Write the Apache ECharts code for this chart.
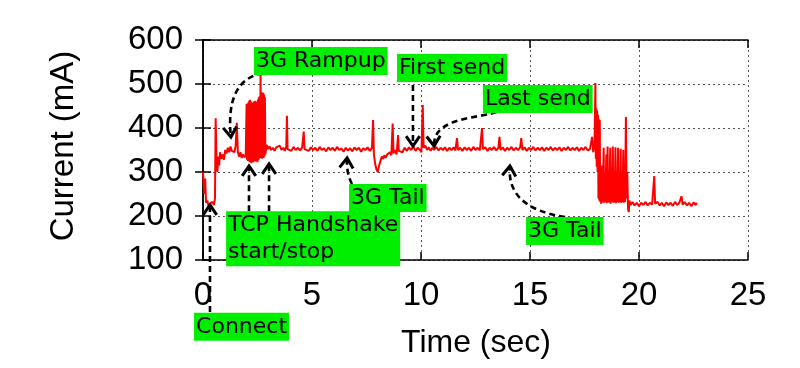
<!DOCTYPE html>
<html>
<head>
<meta charset="utf-8">
<script src="https://cdn.jsdelivr.net/npm/echarts@6/dist/echarts.min.js"></script>
<style>
html,body{margin:0;padding:0;background:#fff;}
#chart{width:800px;height:368px;}
</style>
</head>
<body>
<div id="chart"></div>
<script>
// ---- Data (time in seconds, current in mA) ----
const times = [
0.00,0.04,0.06,0.10,0.14,0.20,0.26,0.32,0.38,0.44,0.50,0.55,0.58,0.62,0.66,0.70,0.74,0.78,0.84,0.90,0.96,
1.02,1.08,1.14,1.20,1.26,1.32,1.38,1.44,1.50,1.55,1.60,1.66,1.72,1.78,1.84,1.90,1.96,
2.00,2.02,2.04,2.06,2.08,2.10,2.12,2.14,2.16,2.18,2.20,2.22,2.24,2.26,2.28,2.30,2.32,2.34,2.36,2.38,2.40,2.42,
2.44,2.46,2.48,2.50,2.52,2.54,2.56,2.58,2.60,2.62,2.64,2.66,2.68,2.70,2.72,2.74,2.76,2.78,2.80,2.82,2.84,2.86,
2.92,2.98,3.05,3.12,3.20,3.28,3.36,3.44,3.52,3.60,3.68,3.75,3.82,3.85,3.88,3.95,
4.05,4.15,4.25,4.35,4.45,4.55,4.62,4.66,4.75,4.85,4.95,
5.05,5.15,5.25,5.35,5.45,5.55,5.65,5.75,5.85,5.95,
6.05,6.15,6.25,6.35,6.45,6.55,6.65,6.75,6.85,6.95,
7.05,7.15,7.25,7.35,7.45,7.55,7.65,7.75,7.80,7.84,7.90,7.96,
8.02,8.08,8.14,8.20,8.26,8.32,8.38,8.45,8.52,8.58,8.64,8.70,8.74,8.80,8.88,8.95,8.98,
9.05,9.15,9.25,9.35,9.45,9.55,9.65,9.75,9.85,9.95,
10.02,10.08,10.12,10.20,10.28,10.36,10.44,10.52,10.60,10.70,10.80,10.90,
11.00,11.10,11.20,11.30,11.40,11.50,11.58,11.65,11.70,11.80,11.90,
12.00,12.10,12.20,12.30,12.40,12.50,12.60,12.70,12.80,12.84,12.95,
13.05,13.15,13.25,13.35,13.45,13.55,13.60,13.65,13.75,13.85,13.95,
14.05,14.15,14.25,14.35,14.45,14.55,14.60,14.65,14.75,14.85,14.95,
15.05,15.15,15.25,15.35,15.45,15.55,15.65,15.75,15.85,15.95,
16.05,16.15,16.25,16.35,16.45,16.55,16.65,16.75,16.85,16.95,
17.05,17.15,17.25,17.35,17.45,17.55,17.65,17.75,17.85,17.90,17.96,
18.00,18.02,18.04,18.06,18.08,18.10,18.12,18.14,18.16,18.18,18.20,18.22,18.24,18.26,18.28,18.30,18.32,18.34,
18.38,18.40,18.44,18.46,18.50,18.52,18.56,18.58,18.62,18.64,18.68,18.70,18.74,18.76,18.80,18.82,18.86,18.88,18.92,18.94,18.98,
19.00,19.04,19.06,19.10,19.12,19.16,19.18,19.22,19.24,19.28,19.30,19.34,19.36,19.40,19.43,19.46,19.50,19.53,19.56,19.62,19.70,19.80,19.90,
20.00,20.10,20.20,20.30,20.40,20.50,20.60,20.70,20.74,20.85,20.95,
21.05,21.15,21.25,21.35,21.45,21.55,21.65,21.75,21.85,21.95,
22.00,22.10,22.20,22.30,22.40,22.50,22.60,22.65
];
const currents = [
300,300,250,285,230,235,222,228,225,232,225,240,422,330,300,335,315,345,330,340,328,
350,342,355,345,358,348,352,345,360,412,345,335,345,332,340,333,338,
455,328,452,325,458,330,462,322,464,325,460,320,457,326,455,322,460,328,458,324,462,330,
456,324,459,322,465,327,470,330,472,332,525,335,482,330,478,335,480,332,476,336,470,340,
362,352,358,350,355,348,356,352,360,350,355,348,358,428,352,356,
348,357,350,355,349,356,392,352,355,348,356,
350,355,348,357,350,354,347,356,350,355,
348,357,350,353,346,355,349,354,347,356,
350,355,346,354,350,356,348,355,418,340,318,305,
300,315,325,335,330,338,332,340,336,345,338,410,342,350,340,384,348,
352,345,355,348,356,350,358,348,355,350,
345,452,355,360,350,356,348,355,350,357,349,355,
350,356,348,355,350,356,349,377,350,355,348,
356,350,355,348,357,350,355,349,400,352,356,
348,355,350,357,349,355,380,350,356,348,355,
350,357,349,355,350,356,377,350,356,348,355,
350,357,349,355,350,356,348,355,350,357,
349,355,350,356,348,355,350,357,349,355,
350,356,348,355,350,357,349,352,380,345,360,
502,330,445,312,440,300,430,240,420,235,418,232,312,228,315,230,312,232,
355,230,300,232,340,229,358,232,300,230,355,228,310,232,358,230,300,231,356,229,290,
232,355,230,300,231,353,230,280,232,350,230,270,232,425,240,300,215,209,235,225,232,224,230,
222,230,225,232,224,230,226,291,228,232,224,
230,222,231,225,230,223,232,225,230,245,
226,232,224,230,222,231,225,230
];
const xTicks = {min: 0, max: 25, interval: 5};
const yTicks = {min: 100, max: 600, interval: 100};

// ---- Annotations (anchored in data coordinates) ----
const noteTexts = ['3G Rampup', 'First send', 'Last send', '3G Tail', 'TCP Handshake\nstart/stop', 'Connect', '3G Tail'];
const noteAnchors = [[2.34, 584], [8.90, 568], [12.84, 498], [6.70, 273], [1.06, 211], [-0.41, -20], [14.82, 198]];
// each arrow: start, [control points...], tip
const arrowPaths = [
  [[0.32, -41], [0.32, 225]],
  [[2.11, 211], [2.11, 313.6]],
  [[3.03, 211], [3.03, 318.2]],
  [[6.83, 272.7], [6.56, 300], [6.61, 331.8]],
  [[2.75, 525], [1.01, 509], [1.28, 379.5]],
  [[9.63, 497.7], [9.63, 359.1]],
  [[13.85, 447.7], [13.49, 418.2], [10.50, 436.4], [10.60, 359.1]],
  [[16.61, 197.7], [13.90, 218.2], [14.08, 313.6]]
];

const seriesData = times.map((t, i) => [t, currents[i]]);

const chart = echarts.init(document.getElementById('chart'), null, {renderer: 'canvas'});
const tickFont = 'Liberation Sans';
const gridStyle = {show: true, lineStyle: {color: '#555', width: 1, type: [2, 3]}};
const axisLineStyle = {show: true, lineStyle: {color: '#000', width: 1.5}};

chart.setOption({
  animation: false,
  backgroundColor: '#fff',
  grid: {left: 203, right: 52, top: 40, bottom: 108, containLabel: false},
  xAxis: [
    {type: 'value', position: 'bottom', min: xTicks.min, max: xTicks.max, interval: xTicks.interval,
     axisLine: axisLineStyle, axisTick: {show: true, inside: true, length: 8, lineStyle: {color: '#000', width: 1.5}},
     axisLabel: {color: '#000', fontFamily: tickFont, fontSize: 33, margin: 19},
     splitLine: gridStyle},
    {type: 'value', position: 'top', min: xTicks.min, max: xTicks.max, interval: xTicks.interval,
     axisLine: axisLineStyle, axisTick: {show: true, inside: true, length: 8, lineStyle: {color: '#000', width: 1.5}},
     axisLabel: {show: false}, splitLine: {show: false}}
  ],
  yAxis: [
    {type: 'value', position: 'left', min: yTicks.min, max: yTicks.max, interval: yTicks.interval,
     axisLine: axisLineStyle, axisTick: {show: true, inside: true, length: 8, lineStyle: {color: '#000', width: 1.5}},
     axisLabel: {color: '#000', fontFamily: tickFont, fontSize: 33, margin: 20},
     splitLine: gridStyle},
    {type: 'value', position: 'right', min: yTicks.min, max: yTicks.max, interval: yTicks.interval,
     axisLine: axisLineStyle, axisTick: {show: true, inside: true, length: 8, lineStyle: {color: '#000', width: 1.5}},
     axisLabel: {show: false}, splitLine: {show: false}}
  ],
  series: [{
    type: 'line', data: seriesData, xAxisIndex: 0, yAxisIndex: 0,
    showSymbol: false, symbol: 'none', sampling: null,
    lineStyle: {color: '#ff0000', width: 2}, z: 3
  }]
});

// build annotation graphics from data coordinates
const px = p => chart.convertToPixel({gridIndex: 0}, p);
const graphics = [];
const dash = {stroke: '#000', lineWidth: 2.6, lineDash: [6, 4], fill: null};
arrowPaths.forEach(path => {
  const pts = path.map(px);
  if (pts.length === 2) {
    graphics.push({type: 'line', z: 10, shape: {x1: pts[0][0], y1: pts[0][1], x2: pts[1][0], y2: pts[1][1]}, style: dash});
  } else if (pts.length === 3) {
    graphics.push({type: 'bezierCurve', z: 10, shape: {x1: pts[0][0], y1: pts[0][1], cpx1: pts[1][0], cpy1: pts[1][1], x2: pts[2][0], y2: pts[2][1]}, style: dash});
  } else {
    graphics.push({type: 'bezierCurve', z: 10, shape: {x1: pts[0][0], y1: pts[0][1], cpx1: pts[1][0], cpy1: pts[1][1], cpx2: pts[2][0], cpy2: pts[2][1], x2: pts[3][0], y2: pts[3][1]}, style: dash});
  }
  const tip = pts[pts.length - 1], prev = pts[pts.length - 2];
  const ang = Math.atan2(tip[1] - prev[1], tip[0] - prev[0]);
  const L = 12, a = 0.6;
  const p1 = [tip[0] - L * Math.cos(ang - a), tip[1] - L * Math.sin(ang - a)];
  const p2 = [tip[0] - L * Math.cos(ang + a), tip[1] - L * Math.sin(ang + a)];
  graphics.push({type: 'polyline', z: 11, shape: {points: [p1, tip, p2]}, style: {stroke: '#000', lineWidth: 3, fill: null}});
});
noteTexts.forEach((txt, i) => {
  const p = px(noteAnchors[i]);
  graphics.push({type: 'text', z: 20, x: p[0], y: p[1], style: {
    text: txt, font: '22px "DejaVu Sans"', fill: '#000', lineHeight: 27,
    backgroundColor: '#00ee00', padding: [1, 2, 0, 2], align: 'left', verticalAlign: 'top'
  }});
});
// axis titles
graphics.push({type: 'text', z: 20, x: 476, y: 343, style: {text: 'Time (sec)', font: '32px "Liberation Sans"', fill: '#000', align: 'center', verticalAlign: 'middle'}});
graphics.push({type: 'text', z: 20, x: 64, y: 146, rotation: Math.PI / 2, style: {text: 'Current (mA)', font: '33px "Liberation Sans"', fill: '#000', align: 'center', verticalAlign: 'middle'}});
chart.setOption({graphic: graphics});
</script>
</body>
</html>
